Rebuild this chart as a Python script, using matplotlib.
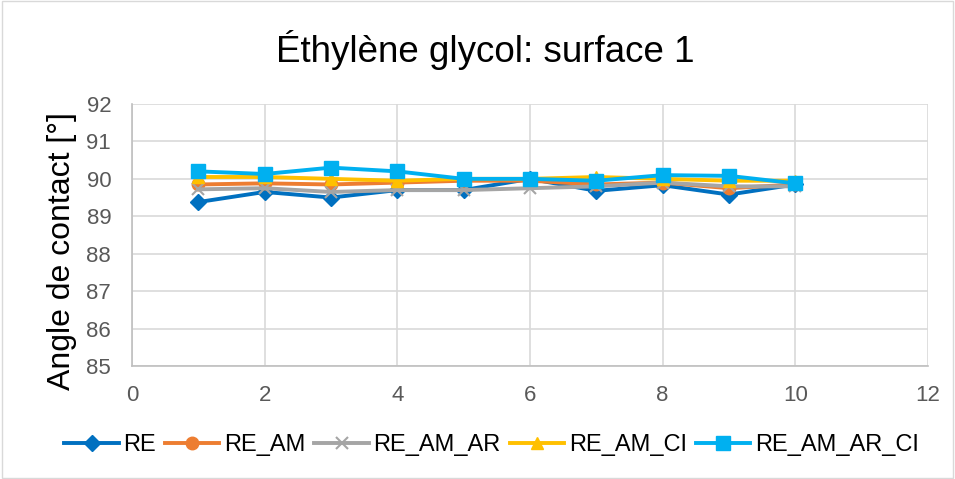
import matplotlib
matplotlib.use("Agg")
import matplotlib.pyplot as plt

plt.rcParams['font.family'] = ['Liberation Sans', 'DejaVu Sans']

x = [1, 2, 3, 4, 5, 6, 7, 8, 9, 10]
re = [89.38, 89.65, 89.5, 89.7, 89.7, 90.0, 89.68, 89.83, 89.58, 89.85]
re_am = [89.85, 89.88, 89.85, 89.9, 89.95, 89.95, 89.85, 89.9, 89.75, 89.85]
re_am_ar = [89.72, 89.75, 89.65, 89.7, 89.7, 89.75, 89.8, 89.9, 89.8, 89.8]
re_am_ci = [90.05, 90.05, 90.0, 89.95, 90.0, 90.0, 90.05, 90.0, 89.95, 89.95]
re_am_ar_ci = [90.2, 90.13, 90.3, 90.2, 90.0, 90.0, 89.95, 90.1, 90.08, 89.88]

series = [
    ("RE", re, '#0070C0', 'D', 8),
    ("RE_AM", re_am, '#ED7D31', 'o', 9),
    ("RE_AM_AR", re_am_ar, '#A5A5A5', 'x', 9),
    ("RE_AM_CI", re_am_ci, '#FFC000', '^', 9),
    ("RE_AM_AR_CI", re_am_ar_ci, '#00B0F0', 's', 10),
]

fig = plt.figure(figsize=(9.55, 4.79), dpi=100)
ax = fig.add_axes([132/955, 1-366/479, (928-132)/955, (366-104)/479])

for name, y, c, m, ms in series:
    ax.plot(x, y, color=c, marker=m, markersize=ms, linewidth=2.8, label=name,
            markeredgewidth=1.5 if m == 'x' else 1)

ax.set_xlim(0, 12)
ax.set_ylim(85, 92)
ax.set_xticks(range(0, 13, 2))
ax.set_yticks(range(85, 93))
ax.grid(True, color='#D9D9D9', linewidth=1.2)
ax.set_axisbelow(True)
for s in ['top', 'right']:
    ax.spines[s].set_visible(False)
for s in ['bottom', 'left']:
    ax.spines[s].set_color('#BFBFBF')
    ax.spines[s].set_linewidth(1.2)
ax.tick_params(axis='both', length=0, labelsize=16, colors='#595959')
ax.tick_params(axis='y', pad=15)
ax.tick_params(axis='x', pad=14)
ax.set_ylabel("Angle de contact [°]", fontsize=23, color='black', va='center')
ax.yaxis.set_label_coords(-0.088, 0.437)

fig.text(0.5 + 8/955, 1-50/479, "Éthylène glycol: surface 1", fontsize=26.5, ha='center', va='center')

fig.legend(loc='center', bbox_to_anchor=(0.5 + 14/955, 1-445/479), ncol=5, frameon=False,
           fontsize=17, handlelength=2.3, columnspacing=0.38, handletextpad=0.2)

fig.patches.append(plt.Rectangle((0.002, 0.002), 0.996, 0.996, transform=fig.transFigure,
                                 fill=False, edgecolor='#D9D9D9', linewidth=1))
fig.savefig("out.png", dpi=100)
